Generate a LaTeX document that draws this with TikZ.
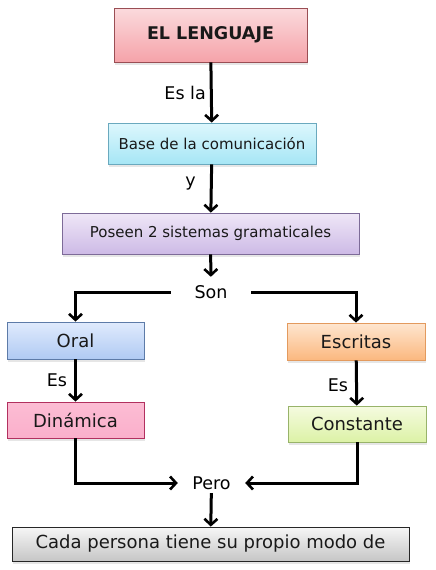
\documentclass[tikz,border=0pt]{standalone}
\usepackage{fontspec}
\setmainfont{DejaVu Sans}
\usetikzlibrary{arrows.meta,shadows}

\definecolor{lenguajeArriba}{HTML}{FBDADD}
\definecolor{lenguajeAbajo}{HTML}{F5A3A9}
\definecolor{lenguajeBorde}{HTML}{9A4E54}
\definecolor{baseArriba}{HTML}{DDF7FD}
\definecolor{baseAbajo}{HTML}{A6E6F5}
\definecolor{baseBorde}{HTML}{6AA9BE}
\definecolor{poseenArriba}{HTML}{EFE7F7}
\definecolor{poseenAbajo}{HTML}{CDBAE6}
\definecolor{poseenBorde}{HTML}{7D6B98}
\definecolor{oralArriba}{HTML}{E0EBFD}
\definecolor{oralAbajo}{HTML}{B0CAF3}
\definecolor{oralBorde}{HTML}{5D7BA8}
\definecolor{escritasArriba}{HTML}{FEE6D0}
\definecolor{escritasAbajo}{HTML}{FBB87F}
\definecolor{escritasBorde}{HTML}{E39A5E}
\definecolor{dinamicaArriba}{HTML}{FCBDD4}
\definecolor{dinamicaAbajo}{HTML}{FAAFCB}
\definecolor{dinamicaBorde}{HTML}{B2305F}
\definecolor{constanteArriba}{HTML}{F5FBE0}
\definecolor{constanteAbajo}{HTML}{DCF2A6}
\definecolor{constanteBorde}{HTML}{98B36A}
\definecolor{cadaArriba}{HTML}{F6F6F6}
\definecolor{cadaAbajo}{HTML}{C6C6C6}

\tikzset{
	caja/.style={draw, line width=0.8pt, inner sep=0pt, text=black!90, font=\fontsize{15}{17}\selectfont,
		drop shadow={opacity=0.2, shadow xshift=1pt, shadow yshift=-2.5pt}},
	cajagrande/.style={caja, font=\fontsize{18}{20}\selectfont},
	flecha/.style={line width=3pt, -{Straight Barb[length=6pt,width=13pt,line width=2.6pt]}},
	etiqueta/.style={inner sep=1pt, font=\fontsize{17.5}{19}\selectfont},
}

\begin{document}
\begin{tikzpicture}[x=1pt, y=-1pt]
			\useasboundingbox (0,0) rectangle (436,570);
			% cajas
			\node[caja, minimum width=193pt, minimum height=54pt, draw=lenguajeBorde,
				top color=lenguajeArriba, bottom color=lenguajeAbajo, font=\bfseries\fontsize{17.5}{19}\selectfont]
				(lenguaje) at (210.5,35) {EL LENGUAJE};
			\node[caja, minimum width=208pt, minimum height=41pt, draw=baseBorde,
				top color=baseArriba, bottom color=baseAbajo] (base) at (212,143.5) {Base de la comunicación};
			\node[caja, minimum width=297pt, minimum height=41pt, draw=poseenBorde,
				top color=poseenArriba, bottom color=poseenAbajo] (poseen) at (210.5,233.5) {Poseen 2 sistemas gramaticales};
			\node[cajagrande, minimum width=137pt, minimum height=37pt, draw=oralBorde,
				top color=oralArriba, bottom color=oralAbajo] (oral) at (75.5,340.5) {Oral};
			\node[cajagrande, minimum width=138pt, minimum height=37pt, draw=escritasBorde,
				top color=escritasArriba, bottom color=escritasAbajo] (escritas) at (356,341.5) {Escritas};
			\node[cajagrande, minimum width=137pt, minimum height=36pt, draw=dinamicaBorde,
				top color=dinamicaArriba, bottom color=dinamicaAbajo] (dinamica) at (75.5,420) {Dinámica};
			\node[cajagrande, minimum width=138pt, minimum height=36pt, draw=constanteBorde,
				top color=constanteArriba, bottom color=constanteAbajo] (constante) at (357,424) {Constante};
			\node[cajagrande, minimum width=397pt, minimum height=34pt, draw=black!85,
				top color=cadaArriba, bottom color=cadaAbajo] (cada) at (210.5,544) {Cada persona tiene su propio modo de};
			% nodos de texto
			\node[etiqueta, minimum width=80pt, minimum height=30pt] (son) at (211,292) {Son};
			\node[etiqueta, minimum width=67pt, minimum height=20pt] (pero) at (211.5,483) {Pero};
			% flechas
			\draw[flecha] (lenguaje) -- (base) node[etiqueta, pos=0.5, left, xshift=-3pt] (esla) {Es la};
			\draw[flecha] (base) -- (poseen) node[etiqueta, pos=0.4, left, xshift=-13pt] (ylab) {y};
			\draw[flecha] (poseen) -- (son);
			\draw[flecha] (son.west) -| (oral.north);
			\draw[flecha] (son.east) -| (escritas.north);
			\draw[flecha] (oral) -- (dinamica) node[etiqueta, pos=0.5, left, xshift=-6pt] (es1) {Es};
			\draw[flecha] (escritas) -- (constante) node[etiqueta, pos=0.55, left, xshift=-6pt] (es2) {Es};
			\draw[flecha] (dinamica.south) |- (pero.west);
			\draw[flecha] (constante.south) |- (pero.east);
			\draw[flecha] (pero) -- (cada);
		\end{tikzpicture}
\end{document}
